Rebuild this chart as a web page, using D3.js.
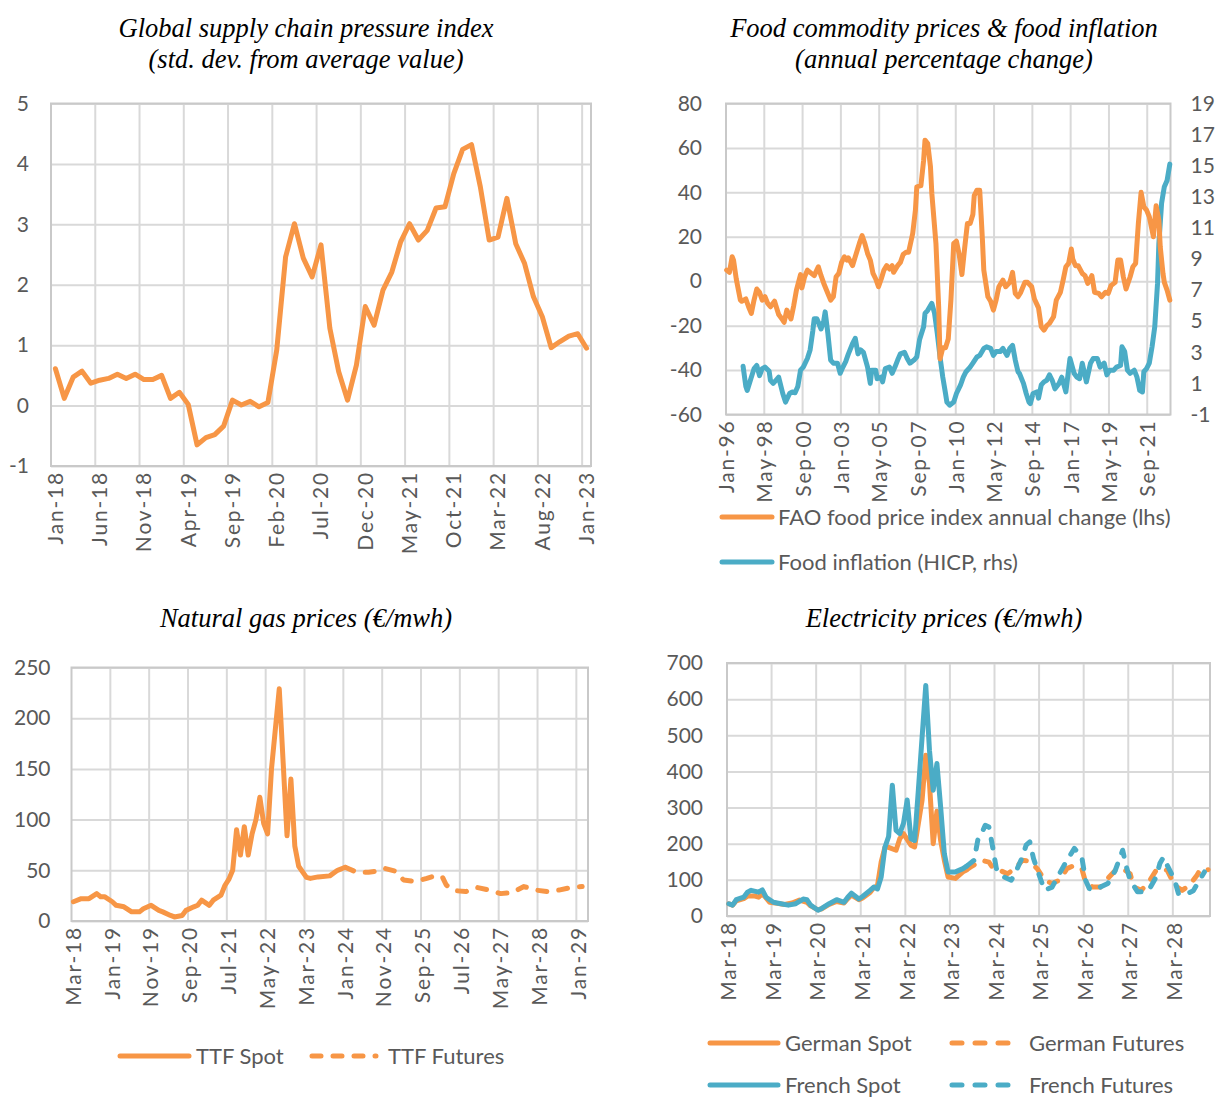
<!DOCTYPE html>
<html>
<head>
<meta charset="utf-8">
<script src="https://cdn.jsdelivr.net/npm/d3@7"></script>
<style>
  body { margin: 0; background: #fff; }
  svg { display: block; }
  .lbl { font-family: Lato, "Noto Sans", sans-serif; font-size: 21px; fill: #595959; }
  .xl { font-family: Lato, "Noto Sans", sans-serif; font-size: 21px; fill: #595959; letter-spacing: 1.8px; }
  .leg { font-family: Lato, "Noto Sans", sans-serif; font-size: 22px; fill: #595959; }
  .ttl { font-family: "Liberation Serif", "DejaVu Serif", serif; font-style: italic; font-size: 26.5px; fill: #000; }
</style>
</head>
<body>
<svg width="1216" height="1098"></svg>
<script>
var orange = "#F79646", teal = "#4BACC6", gridCol = "#D9D9D9", borderCol = "#C9C9C9";

// chart 1 : GSCPI, monthly Jan-18 .. Jan-23
var gscpiLabels = ["Jan-18","Jun-18","Nov-18","Apr-19","Sep-19","Feb-20","Jul-20","Dec-20","May-21","Oct-21","Mar-22","Aug-22","Jan-23"];
var gscpiValues = [0.61,0.12,0.47,0.57,0.37,0.42,0.45,0.52,0.45,0.52,0.43,0.43,
                   0.50,0.12,0.22,0.02,-0.65,-0.53,-0.48,-0.34,0.09,0.01,0.07,-0.02,
                   0.05,0.92,2.46,3.01,2.44,2.13,2.66,1.28,0.56,0.09,0.67,1.64,
                   1.33,1.91,2.21,2.71,3.01,2.74,2.90,3.27,3.29,3.84,4.24,4.32,
                   3.62,2.74,2.79,3.43,2.68,2.35,1.80,1.47,0.96,1.06,1.15,1.19,0.95];

// chart 2 : FAO index (lhs) & HICP food (rhs), [month since Jan-96, value]
var faoLabels = ["Jan-96","May-98","Sep-00","Jan-03","May-05","Sep-07","Jan-10","May-12","Sep-14","Jan-17","May-19","Sep-21"];
var faoPoints = [[0,5],[2,4],[4,11],[5,9.5],[7,1],[10,-8.5],[11,-9],[14,-8],[16,-11.5],[18,-14.5],[20,-8.5],[22,-3.5],[24,-5],[26,-8.5],[28,-7],[30,-10],[32,-11.5],[35,-9],[36,-11],[38,-15],[41,-17.5],[42,-18.5],[44,-13],[47,-17],[49,-11],[51,-4],[54,3],[55,-3],[57,2],[59,5],[61,4],[64,2.5],[67,6.5],[69,2.5],[71,-1],[74,-5.5],[76,-8.5],[78,-7],[80,2],[82,3.5],[84,8.5],[86,11],[88,9.5],[89,10.5],[92,7],[94,11],[97,17],[99,20.5],[101,17],[103,12.5],[105,9.5],[107,3.5],[109,1],[111,-2.5],[113,1],[115,5],[117,7],[119,5.5],[121,7],[122,4],[125,7],[127,8.5],[129,12],[131,13],[133,13],[136,21.5],[138,32],[139,42.5],[142,43],[144,54.5],[145,63.5],[147,62],[149,51.5],[150,39.5],[153,17],[155,-11.5],[156,-35],[158,-30],[160,-30],[162,-26],[164,-8],[166,17],[168,18],[170,12],[172,3],[174,15],[176,26],[178,26],[180,30],[181,38.5],[183,41],[185,41],[186,30],[187,18.5],[188,5],[191,-7],[193,-9],[195,-13],[197,-8.5],[199,-2.5],[202,0.5],[204,-2.5],[207,-0.5],[209,4],[211,-5.5],[213,-7],[215,-5],[218,-0.5],[220,-0.5],[223,-2.5],[225,-8],[228,-12],[230,-20.5],[232,-22],[234,-20],[236,-19],[239,-16],[241,-8.5],[244,-5],[246,0.5],[248,6.5],[250,8],[252,14.5],[253,10],[255,7],[257,7],[260,3.5],[262,2.5],[264,-1],[267,2.5],[269,-5],[272,-5.5],[274,-7],[277,-5],[279,-5.5],[281,-2],[284,-0.5],[286,9.5],[288,9.5],[290,2],[292,-3.5],[295,2],[297,6.5],[299,8],[301,26],[303,40],[305,33.5],[307,32],[309,29],[312,20],[314,34],[316,27.5],[317,15.5],[319,3.5],[320,-0.5],[322,-4],[324,-8.5]];
var hicpPoints = [[12,2.1],[14,0.8],[15,0.55],[17,1.1],[20,1.95],[22,2.15],[24,1.5],[26,1.95],[28,2.05],[31,1.8],[32,1.2],[34,1.0],[36,1.2],[38,1.4],[41,0.35],[43,-0.2],[46,0.35],[48,0.45],[50,0.4],[52,0.8],[54,1.85],[56,2.05],[59,2.6],[61,3.15],[63,4.4],[64,5.15],[66,5.15],[69,4.5],[71,5.05],[72,5.6],[74,4.2],[76,2.5],[78,2.3],[81,2.3],[83,1.65],[85,2.05],[87,2.4],[89,2.9],[92,3.55],[94,3.9],[96,2.9],[98,3.15],[100,3.0],[103,2.05],[105,1.0],[106,1.85],[109,1.85],[110,1.3],[113,1.4],[114,1.1],[116,1.95],[119,2.05],[121,1.65],[123,2.05],[125,2.5],[127,2.9],[130,3.0],[132,2.6],[134,2.3],[137,2.5],[139,2.7],[141,3.8],[144,4.65],[145,5.5],[147,5.7],[150,6.15],[152,5.5],[154,4.2],[156,2.7],[158,1.4],[160,0.35],[161,-0.2],[163,-0.4],[166,-0.2],[168,0.35],[171,0.9],[173,1.4],[175,1.75],[178,2.05],[180,2.3],[183,2.7],[185,2.8],[188,3.25],[190,3.35],[193,3.25],[195,2.8],[197,3.05],[200,3.05],[202,3.25],[205,2.8],[207,3.25],[209,3.45],[211,2.5],[213,1.75],[214,1.65],[217,1.0],[219,0.35],[221,-0.2],[222,-0.3],[224,0.35],[227,0.45],[228,0.05],[230,0.9],[232,1.1],[234,1.2],[236,1.55],[238,1.2],[240,0.65],[243,1.0],[245,1.4],[248,0.45],[251,2.6],[254,1.65],[256,1.4],[258,1.3],[260,2.3],[263,1.1],[266,2.3],[268,2.6],[271,2.6],[273,2.05],[276,2.3],[278,1.55],[280,1.85],[283,1.85],[285,2.05],[288,2.15],[289,3.35],[291,3.05],[293,1.85],[295,1.65],[298,1.85],[300,1.4],[302,0.55],[304,0.45],[305,1.75],[307,1.95],[309,2.3],[311,3.35],[313,4.65],[315,7.4],[316,10],[318,12.6],[320,13.65],[322,14.05],[324,15.1]];

// chart 3 : TTF gas, [month since Mar-18, value]
var gasLabels = ["Mar-18","Jan-19","Nov-19","Sep-20","Jul-21","May-22","Mar-23","Jan-24","Nov-24","Sep-25","Jul-26","May-27","Mar-28","Jan-29"];
var ttfSpot = [[0,19],[2,22],[3,22],[4,22],[6,27],[7,24],[8,24],[10,19],[11,15.5],[13,14],[15,9],[17,9],[18,12],[20,15.5],[22,10.5],[23,9],[25,5.5],[26,4],[28,5.5],[29,10.5],[31,14],[32,15.5],[33,20.5],[35,15.5],[36,20.5],[38,25.5],[39,35],[40,41],[41,50],[42,90],[43,65],[44,93],[45,65],[46,86],[47,100],[48,122],[49,96],[50,86],[51,150],[53,229],[55,84],[56,140],[57,74],[58,54],[60,43],[61,42],[63,43.5],[66,44.5],[68,50],[70,53]];
var ttfFutures = [[70,53],[73,48],[76,48],[78,49],[80,52],[83,49],[85,40.5],[88,39],[91,42],[93,44.5],[95,43.5],[96,35.5],[98,30],[101,29],[104,33],[107,30.5],[110,27],[113,28],[116,34],[119,30.5],[122,29],[125,30.5],[128,33],[131,34]];

// chart 4 : electricity, [month since Mar-18, value]
var elecLabels = ["Mar-18","Mar-19","Mar-20","Mar-21","Mar-22","Mar-23","Mar-24","Mar-25","Mar-26","Mar-27","Mar-28"];
var deSpot = [[0,34],[1,30],[2,42],[4,48],[5,55],[7,55],[8,52],[9,62],[10,50],[11,38],[13,35],[15,32],[17,36],[19,44],[21,38],[22,28],[24,17],[25,20],[27,32],[29,40],[31,36],[32,48],[33,58],[35,45],[36,50],[38,65],[39,78],[40,84],[41,150],[42,190],[43,190],[45,182],[46,214],[47,228],[49,196],[50,191],[52,320],[53,445],[54,367],[55,200],[56,290],[57,209],[58,154],[59,108],[61,104],[63,122],[64,128]];
var frSpot = [[0,34],[1,30],[2,45],[4,52],[5,66],[6,71],[8,66],[9,72],[10,52],[12,38],[14,34],[16,30],[18,34],[20,47],[21,45],[22,30],[24,16],[25,21],[27,34],[29,45],[31,38],[32,52],[33,63],[35,47],[36,54],[38,71],[39,80],[40,75],[41,108],[42,190],[43,220],[44,362],[45,237],[46,228],[47,256],[48,321],[49,214],[50,209],[51,348],[53,638],[54,458],[55,348],[56,422],[57,302],[58,172],[59,122],[61,122],[63,131],[64,138]];
var deFutures = [[64,128],[65,135],[68,154],[70,149],[71,134],[73,126],[75,117],[77,131],[79,154],[81,152],[83,131],[85,99],[87,90],[89,99],[91,131],[93,140],[95,131],[96,94],[98,80],[100,80],[102,104],[104,126],[106,131],[108,117],[109,80],[111,71],[113,94],[115,126],[117,131],[118,126],[120,85],[122,71],[124,85],[126,113],[127,131],[129,128]];
var frFutures = [[64,138],[66,154],[67,210],[68,228],[69,251],[70,246],[71,191],[72,131],[74,108],[76,99],[77,117],[79,163],[80,196],[81,205],[82,159],[84,99],[85,71],[87,80],[88,99],[90,136],[91,154],[93,187],[95,163],[96,99],[97,76],[98,71],[100,80],[102,90],[104,126],[105,154],[106,182],[107,136],[108,99],[110,67],[112,67],[113,71],[115,108],[116,145],[117,163],[118,140],[120,99],[121,62],[123,60],[125,70],[128,122]];

var svg = d3.select("svg");

function drawPanel(p) {
  var x = d3.scaleLinear().domain([0, p.n]).range([p.left, p.right]);
  var y = d3.scaleLinear().domain(p.yDomain).range([p.bottom, p.top]);
  var g = svg.append("g");

  // horizontal grid + left labels
  var ya = g.append("g")
      .attr("transform", "translate(" + p.left + ",0)")
      .call(d3.axisLeft(y).tickValues(p.yTicks).tickSize(-(p.right - p.left)).tickPadding(p.yPad)
        .tickFormat(function(d) { return String(d); }));
  ya.select(".domain").remove();
  ya.attr("font-size", null).attr("font-family", null);
  ya.selectAll(".tick line").attr("stroke", gridCol).attr("stroke-width", 2);
  ya.selectAll(".tick text").attr("class", "lbl");

  // vertical grid
  var ticks = p.xLabels.map(function(d, i) { return i * p.xStep; });
  g.selectAll("line.vg").data(ticks.filter(function(t) { return t > 0; }))
    .enter().append("line")
      .attr("x1", function(t) { return x(t); }).attr("x2", function(t) { return x(t); })
      .attr("y1", p.top).attr("y2", p.bottom)
      .attr("stroke", gridCol).attr("stroke-width", 2);

  g.append("rect")
      .attr("x", p.left).attr("y", p.top)
      .attr("width", p.right - p.left).attr("height", p.bottom - p.top)
      .attr("fill", "none").attr("stroke", borderCol).attr("stroke-width", 2);

  // rotated x labels
  g.selectAll("text.xl").data(ticks)
    .enter().append("text")
      .attr("class", "xl")
      .attr("text-anchor", "end")
      .attr("dy", "0.35em")
      .attr("transform", function(t) { return "translate(" + x(t + 0.5) + "," + (p.bottom + 5) + ") rotate(-90)"; })
      .text(function(t, i) { return p.xLabels[i]; });

  return { x: x, y: y, g: g };
}

function drawLine(P, pts, color, dashed, yScale) {
  var ys = yScale || P.y;
  var line = d3.line()
      .x(function(d) { return P.x(d[0] + 0.5); })
      .y(function(d) { return ys(d[1]); });
  P.g.append("path")
      .datum(pts)
      .attr("d", line)
      .attr("fill", "none")
      .attr("stroke", color)
      .attr("stroke-width", 5)
      .attr("stroke-linejoin", "round")
      .attr("stroke-linecap", "round")
      .attr("stroke-dasharray", dashed ? "9,12" : null);
}

function legendItem(x1, x2, y, color, dash, label, tx) {
  svg.append("line")
      .attr("x1", x1).attr("x2", x2).attr("y1", y).attr("y2", y)
      .attr("stroke", color).attr("stroke-width", 5).attr("stroke-linecap", "round")
      .attr("stroke-dasharray", dash);
  svg.append("text").attr("class", "leg")
      .attr("x", tx).attr("y", y).attr("dy", "0.35em")
      .text(label);
}

function title(lines, cx, y0) {
  lines.forEach(function(t, i) {
    svg.append("text").attr("class", "ttl")
        .attr("x", cx).attr("y", y0 + i * 31)
        .attr("text-anchor", "middle").text(t);
  });
}

// ---- chart 1
title(["Global supply chain pressure index", "(std. dev. from average value)"], 306, 37);
var p1 = drawPanel({left: 51, right: 591, top: 103.5, bottom: 466, n: 61,
  yDomain: [-1, 5], yTicks: [-1, 0, 1, 2, 3, 4, 5], yPad: 22,
  xLabels: gscpiLabels, xStep: 5});
drawLine(p1, gscpiValues.map(function(v, i) { return [i, v]; }), orange, false);

// ---- chart 2
title(["Food commodity prices & food inflation", "(annual percentage change)"], 944, 37);
var p2 = drawPanel({left: 726, right: 1170.5, top: 103.5, bottom: 414.5, n: 325,
  yDomain: [-60, 80], yTicks: [-60, -40, -20, 0, 20, 40, 60, 80], yPad: 24,
  xLabels: faoLabels, xStep: 28});
var y2 = d3.scaleLinear().domain([-1, 19]).range([414.5, 103.5]);
var ra = p2.g.append("g")
    .attr("transform", "translate(1170.5,0)")
    .call(d3.axisRight(y2).tickValues(d3.range(-1, 20, 2)).tickSize(0).tickPadding(20)
      .tickFormat(function(d) { return String(d); }));
ra.select(".domain").remove();
ra.attr("font-size", null).attr("font-family", null);
ra.selectAll(".tick text").attr("class", "lbl");
drawLine(p2, hicpPoints, teal, false, y2);
drawLine(p2, faoPoints, orange, false);
legendItem(722, 772, 517, orange, null, "FAO food price index annual change (lhs)", 778);
legendItem(722, 772, 562, teal, null, "Food inflation (HICP, rhs)", 778);

// ---- chart 3
title(["Natural gas prices (\u20ac/mwh)"], 306, 627);
var p3 = drawPanel({left: 71.5, right: 588, top: 667.5, bottom: 921, n: 133,
  yDomain: [0, 250], yTicks: [0, 50, 100, 150, 200, 250], yPad: 21,
  xLabels: gasLabels, xStep: 10});
drawLine(p3, ttfFutures, orange, true);
drawLine(p3, ttfSpot, orange, false);
legendItem(120, 189, 1056, orange, null, "TTF Spot", 196);
legendItem(312, 376, 1056, orange, "9,12", "TTF Futures", 388);

// ---- chart 4
title(["Electricity prices (\u20ac/mwh)"], 944, 627);
var p4 = drawPanel({left: 727, right: 1210, top: 663, bottom: 916, n: 130,
  yDomain: [0, 700], yTicks: [0, 100, 200, 300, 400, 500, 600, 700], yPad: 24,
  xLabels: elecLabels, xStep: 12});
drawLine(p4, deFutures, orange, true);
drawLine(p4, deSpot, orange, false);
drawLine(p4, frFutures, teal, true);
drawLine(p4, frSpot, teal, false);
legendItem(710, 778, 1043, orange, null, "German Spot", 785);
legendItem(952, 1012, 1043, orange, "10,13", "German Futures", 1029);
legendItem(710, 778, 1085, teal, null, "French Spot", 785);
legendItem(952, 1012, 1085, teal, "10,13", "French Futures", 1029);
</script>
</body>
</html>
